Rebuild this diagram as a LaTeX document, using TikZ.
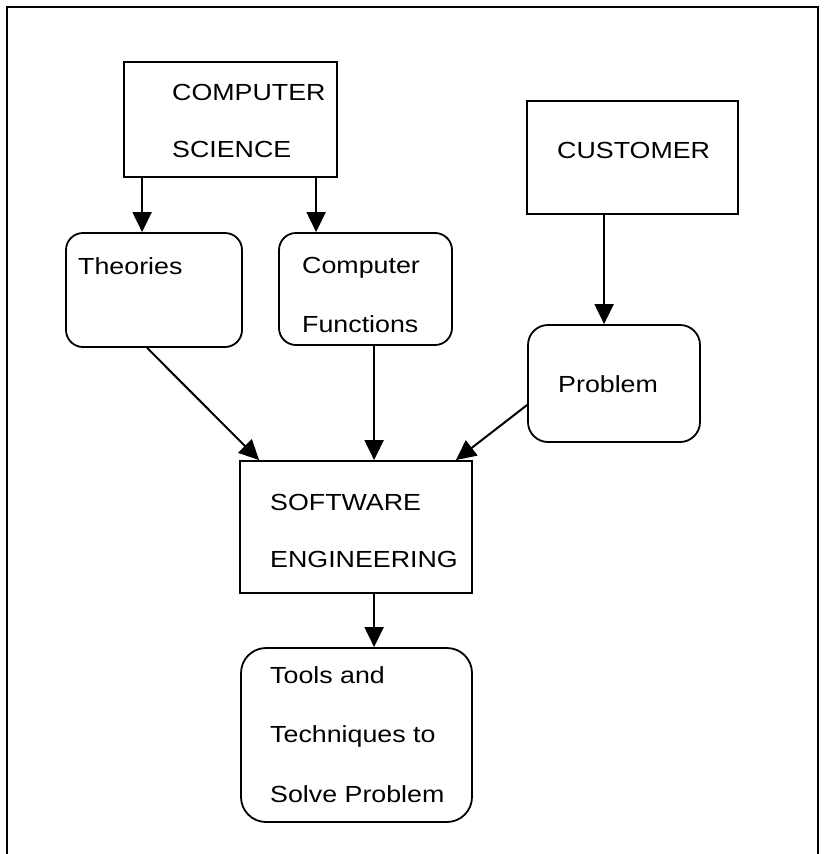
\documentclass[tikz,border=0pt]{standalone}
\usepackage{fontspec}
\setmainfont[FakeStretch=1.15]{Liberation Sans}
\usetikzlibrary{arrows.meta}
\begin{document}
\begin{tikzpicture}[x=1pt,y=-1pt,
  box/.style={draw, line width=1.8pt, inner sep=0pt},
  rbox/.style={box, rounded corners=17pt},
  % multi-line labels are placed by the baseline of their last line
  txt/.style={inner sep=0pt, anchor=base west, align=left,
    font=\fontsize{23.3pt}{#1pt}\selectfont},
  txt/.default=57,
  arr/.style={line width=2pt, -{Triangle[length=20pt,width=19pt]}}]
\useasboundingbox (0,0) rectangle (824,854);
% outer frame, open at the bottom
\draw[line width=1.4pt] (7,854) -- (7,7) -- (818,7) -- (818,854);

% boxes
\node[box, minimum width=213pt, minimum height=115pt] (cs) at (230.5,119.5) {};
\node[box, minimum width=211pt, minimum height=113pt] (cust) at (632.5,157.5) {};
\node[rbox, minimum width=176pt, minimum height=114pt] (th) at (154,290) {};
\node[rbox, minimum width=173pt, minimum height=112pt] (cf) at (365.5,289) {};
\node[rbox, rounded corners=20pt, minimum width=172pt, minimum height=117pt] (pr) at (614,383.5) {};
\node[box, minimum width=232pt, minimum height=132pt] (se) at (356,527) {};
\node[rbox, rounded corners=25pt, minimum width=231pt, minimum height=174pt] (tl) at (356.5,735) {};

% labels
\node[txt=56.5] (cst) at (172,157) {COMPUTER\\SCIENCE};
\node[txt] (custt) at (557,158) {CUSTOMER};
\node[txt] (tht) at (78,274) {Theories};
\node[txt=59] (cft) at (302,332) {Computer\\Functions};
\node[txt] (prt) at (558,392) {Problem};
\node[txt=57] (set) at (270,567) {SOFTWARE\\ENGINEERING};
\node[txt=59.5] (tlt) at (270,802) {Tools and\\Techniques to\\Solve Problem};

% connectors
\draw[arr] ([xshift=19pt]cs.south west) -- ([xshift=19pt]cs.south west |- th.north);
\draw[arr] ([xshift=193pt]cs.south west) -- ([xshift=193pt]cs.south west |- cf.north);
\draw[arr] ([xshift=78pt]cust.south west) -- ([xshift=78pt]cust.south west |- pr.north);
\draw[arr] ([xshift=82pt]th.south west) -- ([xshift=20pt]se.north west);
\draw[arr] ([xshift=96pt]cf.south west) -- ([xshift=96pt]cf.south west |- se.north);
\draw[arr] ([yshift=-21.5pt]pr.west) -- ([xshift=-17pt]se.north east);
\draw[arr] ([xshift=135pt]se.south west) -- ([xshift=135pt]se.south west |- tl.north);
\end{tikzpicture}
\end{document}
